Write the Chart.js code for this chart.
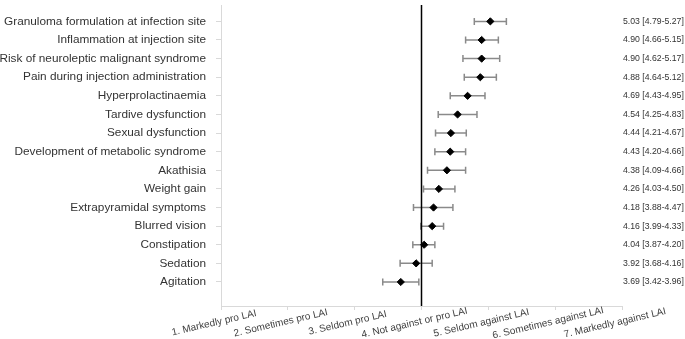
<!DOCTYPE html>
<html>
<head>
<meta charset="utf-8">
<script src="https://cdn.jsdelivr.net/npm/chart.js@4.4.1/dist/chart.umd.min.js"></script>
<style>
  html, body { margin: 0; padding: 0; background: #fff; }
  #wrap { width: 685px; height: 339px; }
</style>
</head>
<body>
<div id="wrap"><canvas id="forestChart"></canvas></div>
<script>
var categories = [
  "Granuloma formulation at infection site",
  "Inflammation at injection site",
  "Risk of neuroleptic malignant syndrome",
  "Pain during injection administration",
  "Hyperprolactinaemia",
  "Tardive dysfunction",
  "Sexual dysfunction",
  "Development of metabolic syndrome",
  "Akathisia",
  "Weight gain",
  "Extrapyramidal symptoms",
  "Blurred vision",
  "Constipation",
  "Sedation",
  "Agitation"
];
var means = [5.03, 4.90, 4.90, 4.88, 4.69, 4.54, 4.44, 4.43, 4.38, 4.26, 4.18, 4.16, 4.04, 3.92, 3.69];
var lower = [4.79, 4.66, 4.62, 4.64, 4.43, 4.25, 4.21, 4.20, 4.09, 4.03, 3.88, 3.99, 3.87, 3.68, 3.42];
var upper = [5.27, 5.15, 5.17, 5.12, 4.95, 4.83, 4.67, 4.66, 4.66, 4.50, 4.47, 4.33, 4.20, 4.16, 3.96];
var scaleLabels = [
  "1. Markedly pro LAI",
  "2. Sometimes pro LAI",
  "3. Seldom pro LAI",
  "4. Not against or pro LAI",
  "5. Seldom against LAI",
  "6. Sometimes against LAI",
  "7. Markedly against LAI"
];
var neutral = 4;
var rowMin = 0.12, rowMax = 16.29;

var ciText = means.map(function (m, i) {
  return m.toFixed(2) + ' [' + lower[i].toFixed(2) + '-' + upper[i].toFixed(2) + ']';
});

var rowTicks = function (scale) {
  scale.ticks = categories.map(function (c, i) { return { value: i + 1 }; });
};

// whiskers with caps, drawn under the diamonds
var errorBars = {
  id: 'errorBars',
  beforeDatasetsDraw: function (chart) {
    var ctx = chart.ctx, xs = chart.scales.x, ys = chart.scales.y;
    ctx.save();
    ctx.strokeStyle = '#8a8a8a';
    ctx.lineWidth = 1.5;
    for (var i = 0; i < means.length; i++) {
      var y = ys.getPixelForValue(i + 1);
      var x1 = xs.getPixelForValue(lower[i]);
      var x2 = xs.getPixelForValue(upper[i]);
      ctx.beginPath();
      ctx.moveTo(x1, y); ctx.lineTo(x2, y);
      ctx.moveTo(x1, y - 3.5); ctx.lineTo(x1, y + 3.5);
      ctx.moveTo(x2, y - 3.5); ctx.lineTo(x2, y + 3.5);
      ctx.stroke();
    }
    ctx.restore();
  }
};

// rotated x labels, centred under their tick (Chart.js right-aligns rotated labels)
var slantLabels = {
  id: 'slantLabels',
  afterDraw: function (chart) {
    var ctx = chart.ctx, xs = chart.scales.x;
    ctx.save();
    ctx.font = '10px "Liberation Sans", Arial, sans-serif';
    ctx.fillStyle = '#404040';
    ctx.textAlign = 'center';
    ctx.textBaseline = 'middle';
    scaleLabels.forEach(function (t, i) {
      var x = xs.getPixelForValue(i + 1) - 7;
      var y = xs.bottom - 16;
      ctx.save();
      ctx.translate(x, y);
      ctx.rotate(-13 * Math.PI / 180);
      ctx.fillText(t, 0, 0);
      ctx.restore();
    });
    ctx.restore();
  }
};

var fitRows = function (w) {
  return function (scale) {
    scale.width = w;
    scale.paddingTop = 0;
    scale.paddingBottom = 0;
  };
};

var ctx = document.getElementById('forestChart').getContext('2d');
var forestChart = new Chart(ctx, {
  type: 'scatter',
  data: {
    datasets: [{
      type: 'line',
      data: [{ x: neutral, y: rowMin }, { x: neutral, y: rowMax }],
      borderColor: '#000',
      borderWidth: 1.5,
      pointRadius: 0,
      yAxisID: 'y'
    }, {
      data: means.map(function (m, i) { return { x: m, y: i + 1 }; }),
      pointStyle: 'rectRot',
      pointRadius: 3.6,
      backgroundColor: '#000',
      borderColor: '#000',
      yAxisID: 'y'
    }]
  },
  options: {
    responsive: true,
    maintainAspectRatio: false,
    animation: false,
    layout: { padding: { top: 1, right: 0, bottom: 0, left: 0 } },
    plugins: { legend: { display: false }, tooltip: { enabled: false } },
    scales: {
      x: {
        type: 'linear',
        min: 1,
        max: 7,
        afterBuildTicks: function (scale) {
          scale.ticks = scaleLabels.map(function (t, i) { return { value: i + 1 }; });
        },
        afterFit: function (scale) {
          scale.height = 33;
          scale.paddingLeft = 0;
          scale.paddingRight = 0;
        },
        ticks: { display: false },
        grid: { drawOnChartArea: false, drawTicks: true, tickLength: 4, color: '#d9d9d9' },
        border: { color: '#d9d9d9', width: 1 }
      },
      y: {
        type: 'linear',
        reverse: true,
        min: rowMin,
        max: rowMax,
        afterBuildTicks: rowTicks,
        afterFit: fitRows(221),
        ticks: {
          autoSkip: false,
          padding: 10,
          color: '#333',
          font: { family: '"Liberation Sans", Arial, sans-serif', size: 11.8 },
          callback: function (v) { return categories[v - 1]; }
        },
        grid: { drawOnChartArea: false, tickLength: 5, color: '#d9d9d9' },
        border: { color: '#d9d9d9', width: 1 }
      },
      y2: {
        type: 'linear',
        position: 'right',
        reverse: true,
        min: rowMin,
        max: rowMax,
        afterBuildTicks: rowTicks,
        afterFit: fitRows(63),
        ticks: {
          autoSkip: false,
          padding: 1,
          color: '#333',
          font: { family: '"Liberation Sans", Arial, sans-serif', size: 8.7 },
          callback: function (v) { return ciText[v - 1]; }
        },
        grid: { display: false, drawTicks: false },
        border: { display: false }
      }
    }
  },
  plugins: [errorBars, slantLabels]
});
</script>
</body>
</html>
